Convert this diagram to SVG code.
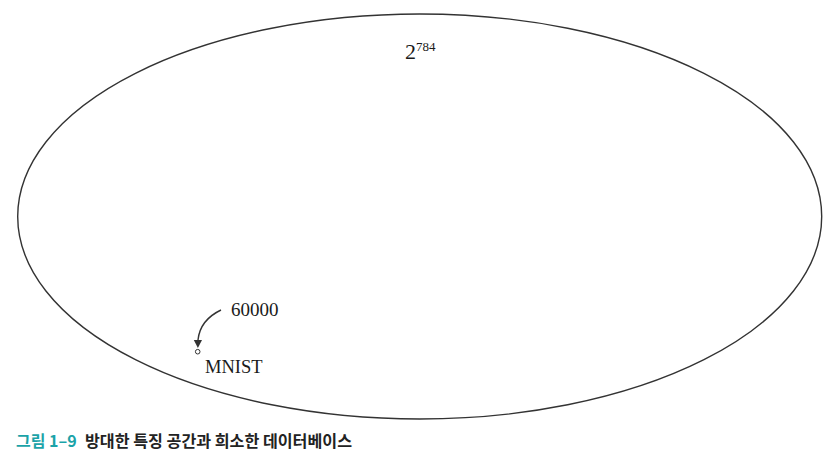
<svg xmlns="http://www.w3.org/2000/svg" width="832" height="455" viewBox="0 0 832 455">
<defs>
<style>
.serif{font-family:"Liberation Serif","Times New Roman",serif;fill:#1a1a1a}
.cap{font-family:"Noto Sans CJK KR","Noto Sans",sans-serif;font-weight:bold;font-size:16px}
</style>
</defs>
<rect width="832" height="455" fill="#fff"/>
<g id="space">
<ellipse cx="419.7" cy="216.5" rx="402" ry="202.5" fill="none" stroke="#333" stroke-width="1.4"/>
<text class="serif" x="405" y="59" font-size="22">2<tspan font-size="13" dy="-8">784</tspan></text>
</g>
<g id="mnist">
<circle cx="197.7" cy="351.7" r="2.3" fill="#fff" stroke="#333" stroke-width="1"/>
<text class="serif" x="205" y="373" font-size="18.5">MNIST</text>
</g>
<g id="count">
<text class="serif" x="231" y="316" font-size="19">60000</text>
</g>
<g id="connectors">
<path d="M221,310 Q200,320 198,340" fill="none" stroke="#333" stroke-width="1.4"/>
<polygon points="193.8,340 202,340 197.9,348" fill="#333"/>
</g>
<text class="cap" x="16" y="447"><tspan fill="#1ba3a8">그림 1–9</tspan><tspan fill="#222" x="85" textLength="267" lengthAdjust="spacingAndGlyphs">방대한 특징 공간과 희소한 데이터베이스</tspan></text>
</svg>
